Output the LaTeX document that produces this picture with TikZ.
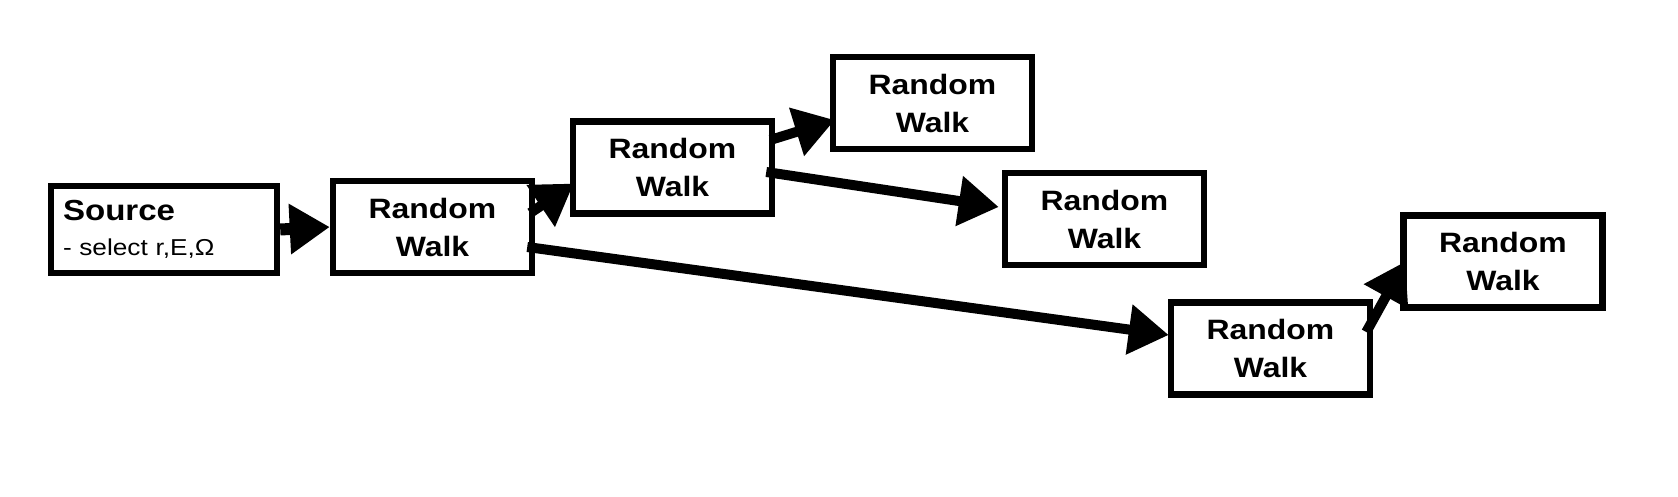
\documentclass[tikz,border=0pt]{standalone}
\usepackage{fontspec}
\setmainfont{Liberation Sans}[FakeStretch=1.14]
\usetikzlibrary{arrows.meta}
\tikzset{
  walkbox/.style={draw, line width=6.5pt, minimum width=199pt, minimum height=92pt, inner sep=0pt, align=center, font=\fontsize{28}{38}\selectfont\bfseries},
  srcbox/.style={draw, line width=6.5pt, minimum width=226pt, minimum height=87pt, inner xsep=12pt, inner ysep=0pt, text width=202pt, align=left, font=\fontsize{23}{35}\selectfont},
  flow/.style={line width=10pt, -{Triangle[length=40pt,width=48pt]}}
}
\begin{document}
\begin{tikzpicture}[x=1pt,y=-1pt]
\useasboundingbox[fill=white] (0,0) rectangle (1678,496);
\node[srcbox] (src) at (164,229.5) {{\fontsize{29}{35}\selectfont\bfseries Source}\\- select\ r,E,Ω};
\node[walkbox] (rw1) at (432.5,227) {Random\\Walk};
\node[walkbox] (rw2) at (672.5,167.5) {Random\\Walk};
\node[walkbox] (rw3) at (932.5,103) {Random\\Walk};
\node[walkbox] (rw4) at (1104.5,219) {Random\\Walk};
\node[walkbox] (rw5) at (1270.5,348.5) {Random\\Walk};
\node[walkbox] (rw6) at (1503,261.5) {Random\\Walk};
\draw[flow, line width=12pt] (src.east) -- (rw1.west);
\draw[flow] ([shift={(-5,-14)}]rw1.east) -- ([shift={(4,16)}]rw2.west);
\draw[flow] ([shift={(-5,-27.5)}]rw2.east) -- ([shift={(5,17)}]rw3.west);
\draw[flow] ([shift={(-9,4.5)}]rw2.east) -- ([shift={(-3,-12)}]rw4.west);
\draw[flow] ([shift={(-8,20)}]rw1.east) -- ([shift={(1,-13.5)}]rw5.west);
\draw[flow] ([shift={(-7,-16.5)}]rw5.east) -- ([shift={(5,0)}]rw6.west);
\end{tikzpicture}
\end{document}
